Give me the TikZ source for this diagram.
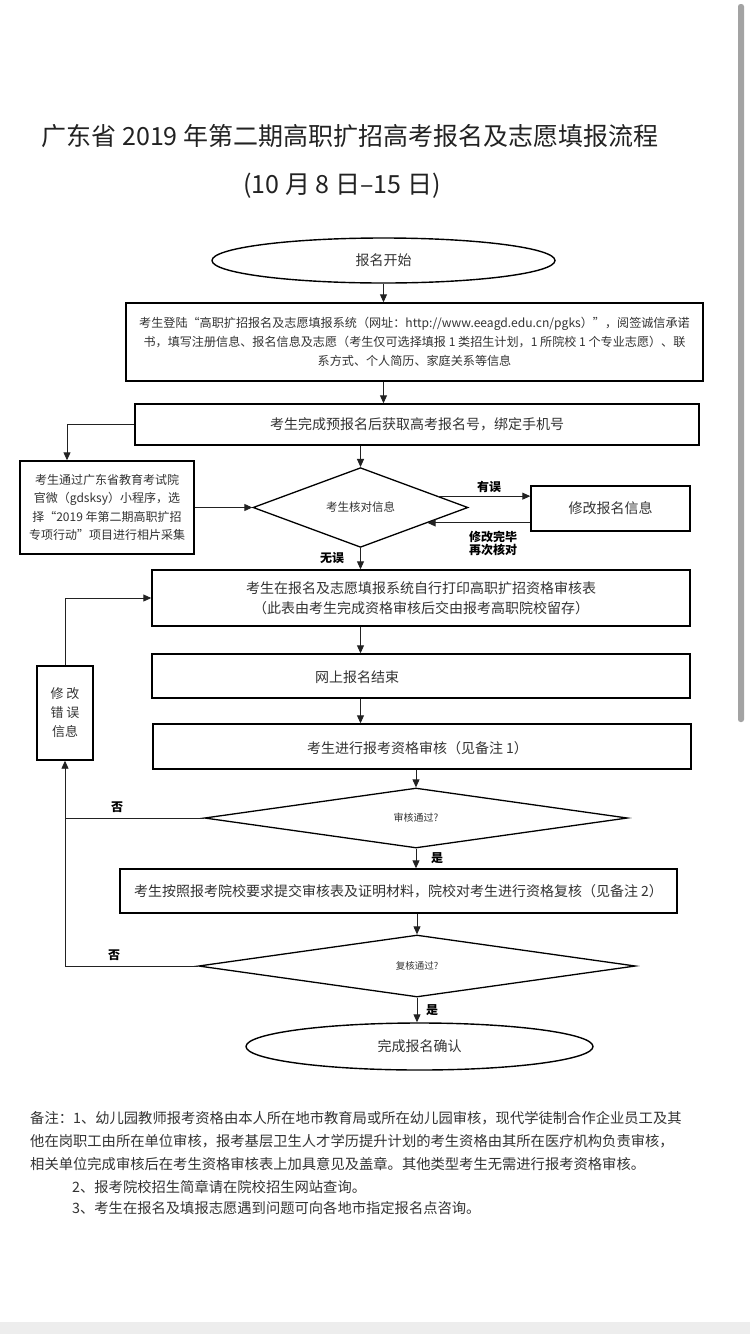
\documentclass[tikz,border=0pt]{standalone}
\usepackage{fontspec}
\setmainfont{Noto Sans CJK SC}
\usetikzlibrary{shapes.geometric,arrows.meta,calc}
\definecolor{txt}{HTML}{333333}
\definecolor{ttl}{HTML}{222222}
\definecolor{lnc}{HTML}{222222}
\newcommand{\fs}[2]{\fontsize{#1}{#2}\selectfont}
\begin{document}
\begin{tikzpicture}[x=1pt,y=-1pt,
  box/.style={draw=black, line width=1.4pt, inner sep=0pt, text=txt, align=center},
  ell/.style={ellipse, draw=black, line width=1.4pt, inner sep=0pt, text=txt, font=\fs{14}{17}},
  dia/.style={diamond, draw=black, line width=1.3pt, inner sep=0pt, text=txt},
  con/.style={draw=lnc, line width=0.9pt},
  arr/.style={con, -{Triangle[length=8pt,width=7pt]}},
  lbl/.style={inner sep=0pt, text=black, font=\fs{12}{13}\bfseries, align=center},
  plain/.style={inner sep=0pt, text=txt}]
\useasboundingbox (0,0) rectangle (750,1334);
\fill[white] (0,0) rectangle (750,1334);
\fill[black!7] (0,1322) rectangle (750,1334);
\fill[black!36, rounded corners=2.5pt] (738,4) rectangle (744,722);

% title
\node[plain, text=ttl, font=\fs{25}{28}] (title) at (350,136) {广东省 2019 年第二期高职扩招高考报名及志愿填报流程};
\node[plain, text=ttl, font=\fs{25}{28}] (subtitle) at (342,186) {(10 月 8 日–15 日)};

% flow nodes
\node[ell, minimum width=343pt, minimum height=45pt] (start) at (383.5,260.5) {报名开始};
\node[box, minimum width=577pt, minimum height=78pt, font=\fs{12.1}{19}] (b1) at (414.5,342)
  {考生登陆“高职扩招报名及志愿填报系统（网址：http://www.eeagd.edu.cn/pgks）”，阅签诚信承诺\\
   书，填写注册信息、报名信息及志愿（考生仅可选择填报 1 类招生计划，1 所院校 1 个专业志愿）、联\\
   系方式、个人简历、家庭关系等信息};
\node[box, minimum width=564pt, minimum height=41pt, font=\fs{14}{17}] (b2) at (417,424.5)
  {考生完成预报名后获取高考报名号，绑定手机号};
\node[box, minimum width=174pt, minimum height=93pt, font=\fs{12}{18.5}] (photo) at (107,507.5)
  {考生通过广东省教育考试院\\官微（gdsksy）小程序，选\\择“2019 年第二期高职扩招\\专项行动”项目进行相片采集};
\node[dia, minimum width=215pt, minimum height=77pt, font=\fs{11.5}{14}] (d1) at (360.5,507.5) {考生核对信息};
\node[box, minimum width=159pt, minimum height=45pt, font=\fs{14}{17}] (fix) at (610.5,508.5) {修改报名信息};
\node[box, minimum width=538pt, minimum height=56pt, font=\fs{14}{20}] (b3) at (421,598)
  {考生在报名及志愿填报系统自行打印高职扩招资格审核表\\（此表由考生完成资格审核后交由报考高职院校留存）};
\node[box, minimum width=538pt, minimum height=44pt] (b4) at (421,676) {};
\node[plain, font=\fs{14}{17}] (t4) at (357,677) {网上报名结束};
\node[box, minimum width=538pt, minimum height=45pt] (b5) at (422,746.5) {};
\node[plain, font=\fs{14}{17}] (t5) at (417.5,748) {考生进行报考资格审核（见备注 1）};
\node[box, minimum width=56pt, minimum height=94pt, font=\fs{13}{19}] (err) at (65,713)
  {修 改\\错 误\\信息};
\node[dia, minimum width=423pt, minimum height=60pt, font=\fs{10}{12}] (d3) at (416,818) {审核通过?};
\node[box, minimum width=557pt, minimum height=44pt, font=\fs{14}{17}] (b6) at (398.5,891)
  {考生按照报考院校要求提交审核表及证明材料，院校对考生进行资格复核（见备注 2）};
\node[dia, minimum width=437pt, minimum height=62pt, font=\fs{9.5}{12}] (d4) at (417,966) {复核通过?};
\node[ell, minimum width=347pt, minimum height=47pt] (end) at (419.5,1046.5) {完成报名确认};

% labels
\node[lbl] (l1) at (489,487) {有误};
\node[lbl] (l2) at (493,543.5) {修改完毕\\再次核对};
\node[lbl] (l3) at (332,558) {无误};
\node[lbl] (l4) at (117,807) {否};
\node[lbl] (l5) at (114,955) {否};
\node[lbl] (l6) at (437,858) {是};
\node[lbl] (l7) at (432,1010) {是};

% connectors
\draw[arr] (start.south) -- (start.south |- b1.north);
\draw[arr] (start.south |- b1.south) -- (start.south |- b2.north);
\draw[arr] (b2.west) -| ([xshift=-40pt]photo.north);
\draw[arr] (d1.north |- b2.south) -- (d1.north);
\draw[arr] (photo.east) -- (d1.west);
\coordinate (e1) at ($(d1.east)!0.28!(d1.north)$);
\draw[arr] (e1) -- (e1 -| fix.west);
\coordinate (e2) at ($(d1.east)!0.38!(d1.south)$);
\draw[arr] (e2 -| fix.west) -- (e2);
\draw[arr] (d1.south) -- (d1.south |- b3.north);
\draw[arr] (d1.south |- b3.south) -- (d1.south |- b4.north);
\draw[arr] (d1.south |- b4.south) -- (d1.south |- b5.north);
\draw[arr] (d3.north |- b5.south) -- (d3.north);
\draw[arr] (d3.south) -- (d3.south |- b6.north);
\draw[arr] (d4.north |- b6.south) -- (d4.north);
\draw[arr] (d4.south) -- (d4.south |- end.north);
\draw[arr] (d4.west) -| (err.south);
\draw[con] (d3.west) -- (d3.west -| err.south);
\draw[arr] (err.north) |- (b3.west);

% notes
\begin{scope}[every node/.style={plain, anchor=west, font=\fs{14.3}{17}}]
\node (n1) at (30,1118) {备注：1、幼儿园教师报考资格由本人所在地市教育局或所在幼儿园审核，现代学徒制合作企业员工及其};
\node (n2) at (30,1141.5) {他在岗职工由所在单位审核，报考基层卫生人才学历提升计划的考生资格由其所在医疗机构负责审核，};
\node (n3) at (30,1164) {相关单位完成审核后在考生资格审核表上加具意见及盖章。其他类型考生无需进行报考资格审核。};
\node (n4) at (72,1187) {2、报考院校招生简章请在院校招生网站查询。};
\node (n5) at (72,1208.5) {3、考生在报名及填报志愿遇到问题可向各地市指定报名点咨询。};
\end{scope}
\end{tikzpicture}
\end{document}
